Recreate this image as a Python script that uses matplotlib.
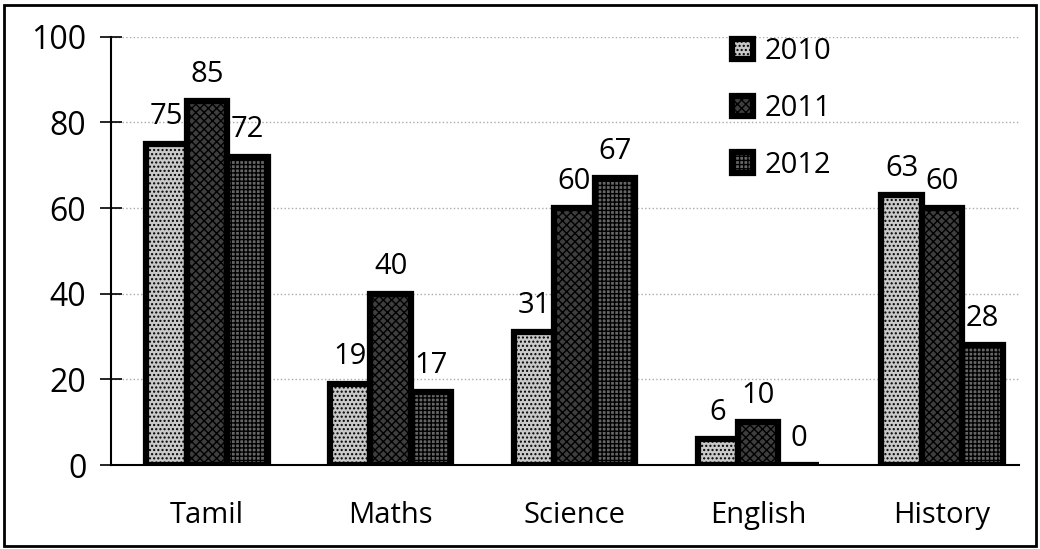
import numpy as np
import matplotlib.pyplot as plt
from matplotlib.patches import Rectangle

subjects = ["Tamil", "Maths", "Science", "English", "History"]
years = ["2010", "2011", "2012"]
marks_2010 = [75, 19, 31, 6, 63]
marks_2011 = [85, 40, 60, 10, 60]
marks_2012 = [72, 17, 67, 0, 28]

colors = ["#c9c9c9", "#3e3e3e", "#666666"]
hatches = ["....", "xxxx", "++++"]

plt.rcParams['font.family'] = ['Open Sans', 'DejaVu Sans']
plt.rcParams['hatch.color'] = "#999999"

fig = plt.figure(figsize=(10.4, 5.49), dpi=100)
ax = fig.add_axes([0.107, 0.153, 0.873, 0.78])

x = np.arange(len(subjects))
w = 0.22
series = [marks_2010, marks_2011, marks_2012]
for i, vals in enumerate(series):
    pos = x + (i - 1) * w
    bars = ax.bar(pos, vals, w, color=colors[i], edgecolor="black", linewidth=4.5,
                  label=years[i], zorder=3)
    for b in bars:
        b.set_hatch(hatches[i])
    for px, v in zip(pos, vals):
        ax.annotate(str(v), (px, v), xytext=(0, 9), textcoords="offset points",
                    ha="center", va="bottom", fontsize=21, zorder=4)

ax.set_ylim(0, 100)
ax.set_xlim(-0.52, 4.42)
ax.set_yticks([0, 20, 40, 60, 80, 100])
ax.set_xticks(x)
ax.set_xticklabels(subjects)
ax.tick_params(axis="y", direction="inout", length=16, width=1.2, labelsize=23, pad=10)
ax.tick_params(axis="x", length=0, labelsize=21, pad=26)
for s in ["top", "right"]:
    ax.spines[s].set_visible(False)
ax.spines["left"].set_linewidth(1.5)
ax.spines["bottom"].set_linewidth(1.5)
ax.yaxis.grid(True, color="#aaaaaa", linestyle=":", linewidth=1, zorder=0)

ax.legend(loc="upper left", bbox_to_anchor=(0.655, 1.06), frameon=False, fontsize=21,
          handlelength=0.7, handleheight=0.7, handletextpad=0.4, labelspacing=0.95)

fig.patches.append(Rectangle((0.004, 0.006), 0.992, 0.985, transform=fig.transFigure,
                             fill=False, edgecolor="black", linewidth=2))

fig.savefig("out.png", dpi=100)
